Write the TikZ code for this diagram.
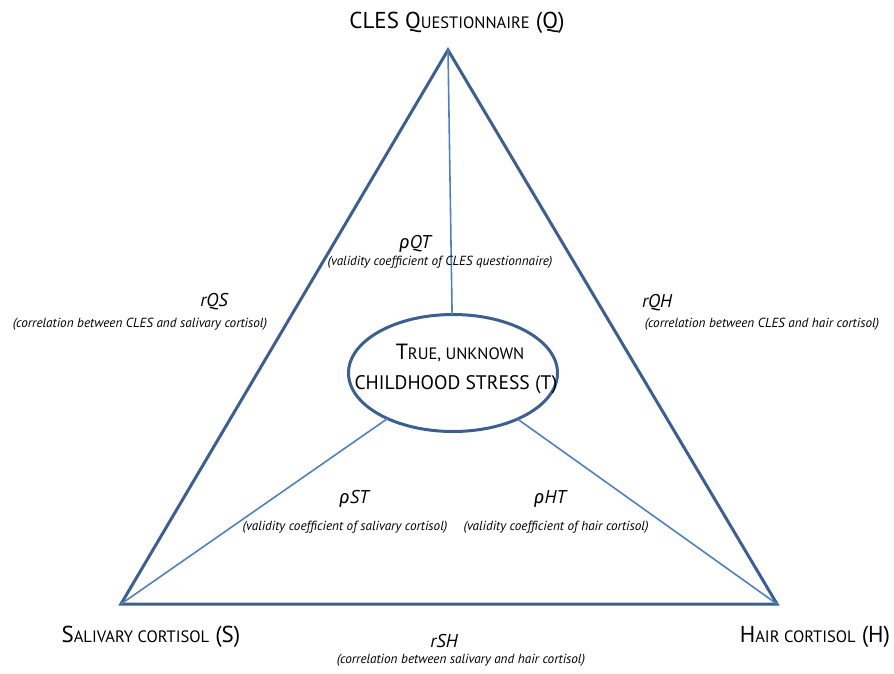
\documentclass[tikz,border=0pt]{standalone}
\usepackage{fontspec}
\setmainfont{PT Sans}
\newfontfamily\grk{Fira Sans}
\usetikzlibrary{shapes.geometric}
\definecolor{outerc}{HTML}{3C5F8F}
\definecolor{innerc}{HTML}{4F81BD}
\newcommand{\rh}{{\grk\itshape ρ}}
\newcommand{\smc}[1]{{\fontsize{16.5}{16.5}\selectfont #1}}
\tikzset{
  outerline/.style={draw=outerc, line width=3pt, line join=miter},
  innerline/.style={draw=innerc, line width=1.6pt},
  corner/.style={anchor=base, inner sep=0pt, font=\fontsize{23}{23}\selectfont},
  coef/.style={anchor=base, inner sep=0pt, font=\fontsize{18.5}{18.5}\selectfont\itshape},
  expl/.style={anchor=base, inner sep=0pt, font=\fontsize{13.2}{13.2}\selectfont\itshape},
  ell/.style={ellipse, draw=outerc, line width=3pt, minimum width=209pt, minimum height=117pt, inner sep=0pt, outer sep=0pt},
}
\begin{document}
\begin{tikzpicture}[x=1pt,y=-1pt]
\useasboundingbox (0,0) rectangle (894,673);
\coordinate (Q) at (448,50);
\coordinate (S) at (121,604);
\coordinate (H) at (777,604);
\node[ell] (T) at (453,373) {};
\draw[outerline] (Q) -- (H) -- (S) -- cycle;
\draw[innerline] (Q) -- (T);
\draw[innerline] (S) -- (T);
\draw[innerline] (H) -- (T);
% corner labels
\node[corner] (lq) at (457,28) {CLES Q\smc{UESTIONNAIRE} (Q)};
\node[corner] (ls) at (151,642) {S\smc{ALIVARY CORTISOL} (S)};
\node[corner] (lh) at (815,642) {H\smc{AIR CORTISOL} (H)};
% ellipse text
\node[anchor=base, inner sep=0pt, font=\fontsize{22}{22}\selectfont] (t1) at (460,359) {T\smc{RUE, UNKNOWN}};
\node[anchor=base, inner sep=0pt, font=\fontsize{19.6}{19.6}\selectfont] (t2) at (456,389) {CHILDHOOD STRESS (T)};
% coefficients
\node[coef] (cqt) at (415,248) {\rh QT};
\node[expl] (eqt) at (440,265) {(validity coefficient of CLES questionnaire)};
\node[coef] (cqs) at (214,306) {rQS};
\node[expl] (eqs) at (140,327) {(correlation between CLES and salivary cortisol)};
\node[coef] (cqh) at (657,307) {rQH};
\node[expl] (eqh) at (762,327) {(correlation between CLES and hair cortisol)};
\node[coef] (cst) at (354,503) {\rh ST};
\node[expl] (est) at (345,530) {(validity coefficient of salivary cortisol)};
\node[coef] (cht) at (550,503) {\rh HT};
\node[expl] (eht) at (556,530) {(validity coefficient of hair cortisol)};
\node[coef] (csh) at (444,647) {rSH};
\node[expl] (esh) at (461,663) {(correlation between salivary and hair cortisol)};
\end{tikzpicture}
\end{document}
